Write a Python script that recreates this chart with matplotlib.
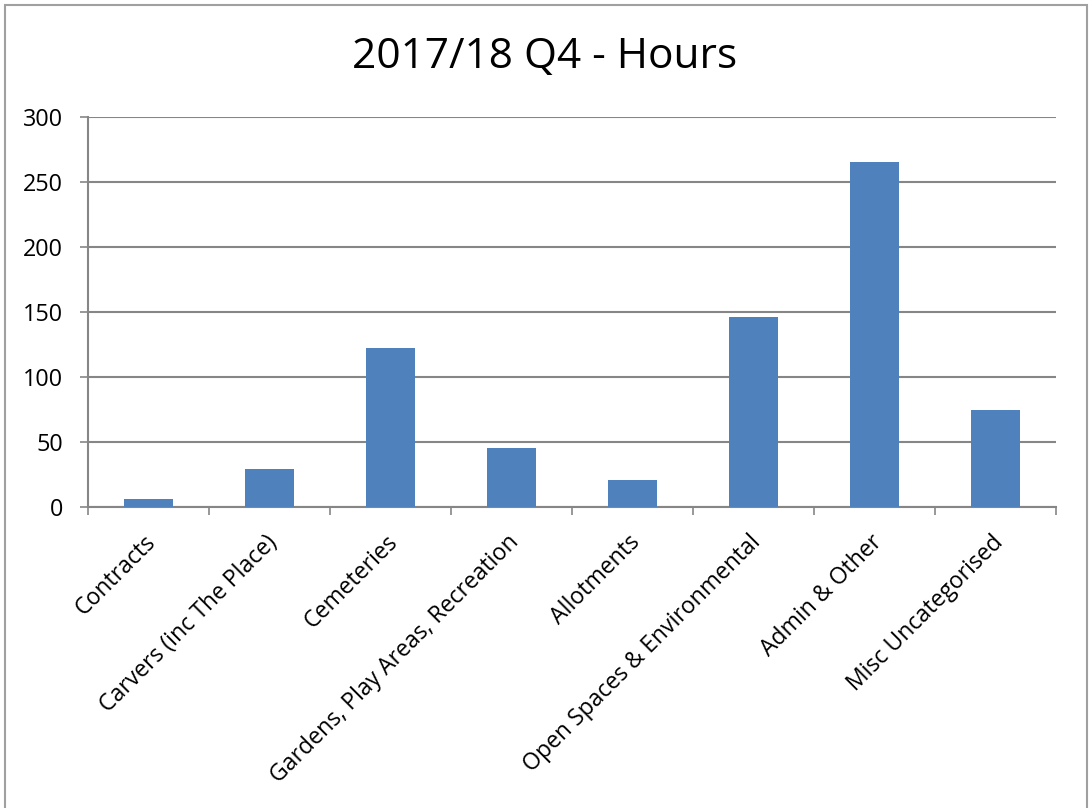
#!/usr/bin/env python3

import numpy as np
import matplotlib.pyplot as plt
from matplotlib.patches import Rectangle

categories = ["Contracts", "Carvers (inc The Place)", "Cemeteries",
              "Gardens, Play Areas, Recreation", "Allotments",
              "Open Spaces & Environmental", "Admin & Other", "Misc Uncategorised"]
hours = [6, 29.5, 122.5, 45.5, 21, 146, 265.5, 75]
yticks = [0, 50, 100, 150, 200, 250, 300]

plt.rcParams['font.family'] = ['Open Sans', 'DejaVu Sans']

grey = "#868686"

fig = plt.figure(figsize=(10.9, 8.08), dpi=100)
ax = fig.add_axes([88/1090, 1-507/808, (1056-88)/1090, (507-117)/808])

x = np.arange(len(categories))
ax.bar(x, hours, width=0.4, color="#4F81BD", zorder=3)

ax.set_xlim(-0.5, len(categories)-0.5)
ax.set_ylim(0, 300)
ax.set_yticks(yticks)
ax.set_yticklabels([str(v) for v in yticks], fontsize=16.8)
ax.yaxis.grid(True, color=grey, linewidth=1.5, zorder=0)
ax.tick_params(axis='y', length=6, width=1.2, color=grey, pad=12, labelcolor="black")

# category ticks sit on the boundaries
ax.set_xticks(np.arange(len(categories)+1)-0.5)
ax.set_xticklabels([])
ax.tick_params(axis='x', length=6, width=1.2, color=grey)
for i, name in enumerate(categories):
    ax.annotate(name, xy=(i, 0), xycoords=('data', 'axes fraction'),
                xytext=(3, -23), textcoords='offset points',
                rotation=45, rotation_mode='anchor',
                ha='right', va='center', fontsize=16.6)

for side in ['top', 'right']:
    ax.spines[side].set_visible(False)
for side in ['left', 'bottom']:
    ax.spines[side].set_color(grey)
    ax.spines[side].set_linewidth(1.5)

fig.text(545/1090, 1-57/808, "2017/18 Q4 - Hours", ha='center', va='center',
         fontsize=30.5)

# chart border
fig.patches.append(Rectangle((5/1090, -0.05), 1082/1090, 1.05-5/808,
                             transform=fig.transFigure, fill=False,
                             edgecolor="#a0a0a0", linewidth=1.5))

fig.savefig("out.png", dpi=100)
